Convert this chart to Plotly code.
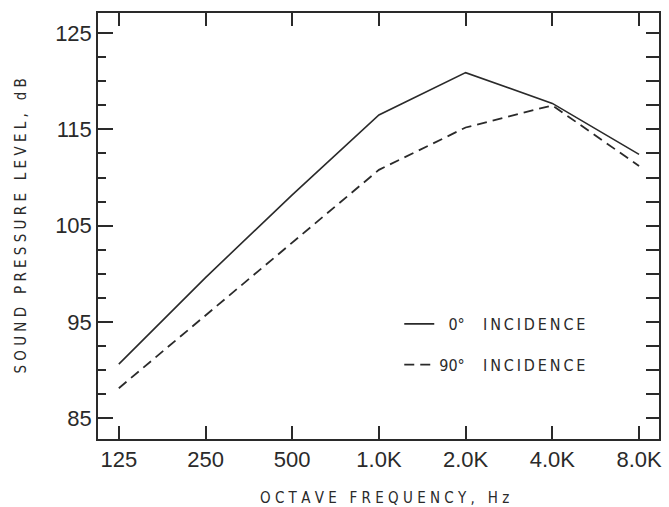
import plotly.graph_objects as go

# ---- data ----
freq_labels = ["125", "250", "500", "1.0K", "2.0K", "4.0K", "8.0K"]
spl_0deg = [90.6, 99.6, 108.2, 116.5, 120.9, 117.7, 112.4]
spl_90deg = [88.1, 95.7, 103.3, 110.8, 115.2, 117.5, 111.2]
y_tick_vals = [85, 95, 105, 115, 125]
TS = "\u2009"  # thin space used for letter spacing
series_names = ["\u00a0\u00a00°\u00a0\u00a0\u00a0\u00a0" + TS.join("INCIDENCE"),
                "90°\u00a0\u00a0\u00a0\u00a0" + TS.join("INCIDENCE")]

x_idx = list(range(len(freq_labels)))

INK = "#2a2a2a"
NUM_FONT = dict(family="Liberation Sans, Arial, Helvetica, sans-serif", size=22, color=INK)
LBL_FONT = dict(family="Liberation Sans Narrow, DejaVu Sans Condensed, Liberation Sans, sans-serif",
                size=15, color=INK)

fig = go.Figure()
fig.add_trace(go.Scatter(x=x_idx, y=spl_0deg, mode="lines", name=series_names[0],
                         legendgroup="a",
                         line=dict(color=INK, width=1.6)))
fig.add_trace(go.Scatter(x=x_idx, y=spl_90deg, mode="lines", name=series_names[1],
                         legendgroup="b", xaxis="x2", yaxis="y2",
                         line=dict(color=INK, width=1.8, dash="10px,6px")))

xr = [-0.24, 6.23]
yr = [82.82, 127.1]

fig.update_layout(
    width=669, height=507,
    margin=dict(l=98, r=7, t=13, b=68),
    paper_bgcolor="white", plot_bgcolor="white",
    showlegend=True,
    legend=dict(x=0.537, y=0.31, xanchor="left", yanchor="top",
                bgcolor="rgba(0,0,0,0)", traceorder="grouped", tracegroupgap=17,
                font=dict(family="Liberation Sans Narrow, DejaVu Sans Condensed, Liberation Sans, sans-serif",
                          size=16, color=INK)),
    xaxis=dict(range=xr, tickmode="array", tickvals=x_idx, ticktext=freq_labels,
               ticks="inside", ticklen=13, tickwidth=1.5, tickcolor=INK,
               showline=True, linewidth=1.5, linecolor=INK,
               showgrid=False, zeroline=False, tickfont=NUM_FONT),
    yaxis=dict(range=yr, tickmode="array", tickvals=y_tick_vals,
               ticks="inside", ticklen=15, tickwidth=1.5, tickcolor=INK,
               minor=dict(dtick=2.5, tick0=85, ticks="inside", ticklen=8, tickwidth=1.5, tickcolor=INK),
               showline=True, linewidth=1.5, linecolor=INK,
               showgrid=False, zeroline=False, tickfont=NUM_FONT),
    xaxis2=dict(range=xr, overlaying="x", side="top", anchor="y2",
                tickmode="array", tickvals=x_idx, showticklabels=False,
                ticks="inside", ticklen=13, tickwidth=1.5, tickcolor=INK,
                showline=True, linewidth=1.5, linecolor=INK,
                showgrid=False, zeroline=False),
    yaxis2=dict(range=yr, overlaying="y", side="right", anchor="x2",
                tick0=85, dtick=2.5, showticklabels=False,
                ticks="inside", ticklen=13, tickwidth=1.5, tickcolor=INK,
                showline=True, linewidth=1.5, linecolor=INK,
                showgrid=False, zeroline=False),
    annotations=[
        dict(text="O C T A V E\u00a0\u00a0\u00a0F R E Q U E N C Y ,\u00a0\u00a0\u00a0H z",
             xref="paper", yref="paper", x=0.511, y=-0.138,
             xanchor="center", yanchor="middle", showarrow=False, font=LBL_FONT),
        dict(text="S O U N D\u00a0\u00a0\u00a0P R E S S U R E\u00a0\u00a0\u00a0L E V E L ,\u00a0\u00a0\u00a0d B",
             xref="paper", yref="paper", x=-0.138, y=0.5, textangle=-90,
             xanchor="center", yanchor="middle", showarrow=False, font=LBL_FONT),
    ],
)

fig.write_html("out.html")
